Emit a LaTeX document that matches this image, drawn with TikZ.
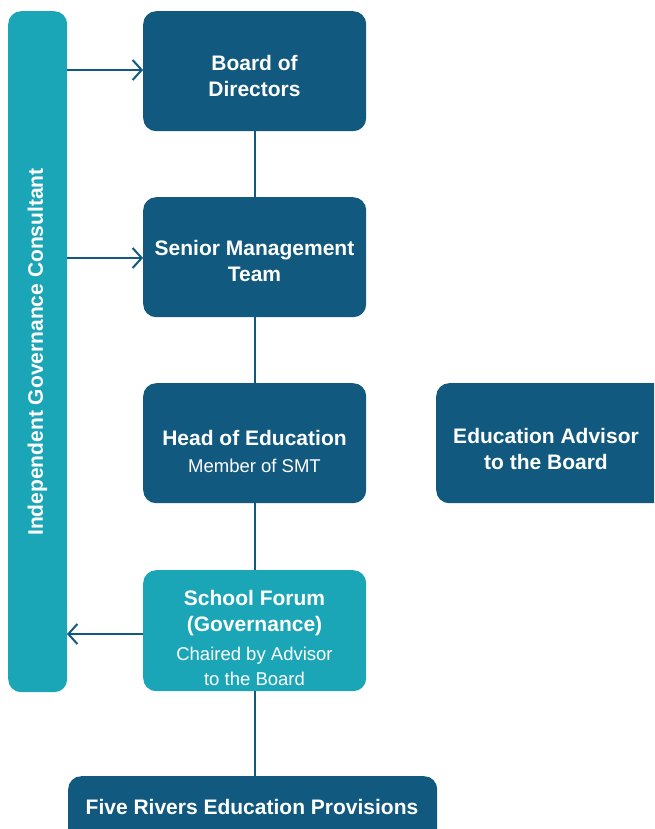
\documentclass[tikz,border=0pt]{standalone}
\usepackage{fontspec}
\setmainfont{Liberation Sans}
\usetikzlibrary{arrows.meta}
\definecolor{darkb}{HTML}{11597F}
\definecolor{tealb}{HTML}{1BA6B8}
\newcommand\subtxt[1]{{\fontsize{18.5}{24}\selectfont\mdseries #1}}
\tikzset{
  box/.style={fill=darkb, rounded corners=13pt, minimum width=223pt, minimum height=120pt, inner sep=0pt},
  tbox/.style={box, fill=tealb},
  lbl/.style={text=white, align=center, inner sep=0pt, font=\fontsize{21}{26}\selectfont\bfseries},
  link/.style={draw=darkb, line width=2pt},
  arr/.style={link, -{Straight Barb[length=9pt,width=20pt,line width=2pt]}}
}
\begin{document}
\begin{tikzpicture}[x=1pt,y=-1pt]
\useasboundingbox (0,0) rectangle (654,829);
\clip (0,0) rectangle (654,829);
\node[tbox, minimum width=59pt, minimum height=681pt, anchor=north west] (igc) at (8,11) {};
\node[lbl, rotate=90] (igct) at (37.5,352) {Independent Governance Consultant};
\node[box, anchor=north west] (bod) at (143,11) {};
\node[lbl] (bodt) at (254.5,76) {Board of\\Directors};
\node[box, anchor=north west] (smt) at (143,197) {};
\node[lbl] (smtt) at (254.5,261) {Senior Management\\Team};
\node[box, anchor=north west] (hoe) at (143,383) {};
\node[lbl] (hoet) at (254.5,451) {Head of Education\\[1pt]\subtxt{Member of SMT}};
\node[box, anchor=north west, minimum width=240pt] (eab) at (436,383) {};
\node[lbl] (eabt) at (546,448.5) {Education Advisor\\to the Board};
\node[tbox, anchor=north west, minimum height=121pt] (sf) at (143,570) {};
\node[lbl] (sft) at (254.5,638) {School Forum\\(Governance)\\[3pt]\subtxt{Chaired by Advisor}\\[-1pt]\subtxt{to the Board}};
\node[box, anchor=north west, minimum width=369pt, minimum height=80pt] (fr) at (68,776) {};
\node[lbl] (frt) at (252,807) {Five Rivers Education Provisions};
\draw[link] (bod.south) -- (smt.north);
\draw[link] (smt.south) -- (hoe.north);
\draw[link] (hoe.south) -- (sf.north);
\draw[link] (sf.south) -- (sf.south |- fr.north);
\coordinate (a1) at (67,70);
\coordinate (a2) at (67,258);
\coordinate (a3) at (67,634);
\draw[arr] (a1) -- (a1 -| bod.west);
\draw[arr] (a2) -- (a2 -| smt.west);
\draw[arr] (a3 -| sf.west) -- (a3);
\end{tikzpicture}
\end{document}
